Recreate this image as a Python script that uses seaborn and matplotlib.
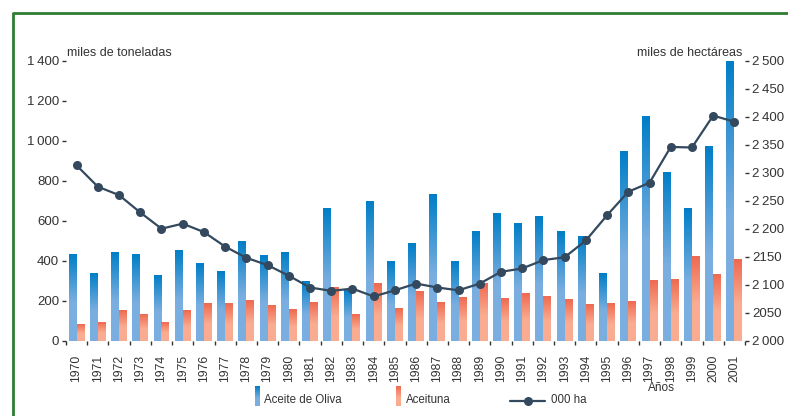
import numpy as np
import pandas as pd
import matplotlib
matplotlib.use("Agg")
import matplotlib.pyplot as plt
import seaborn as sns
from matplotlib.lines import Line2D

years = [str(y) for y in range(1970, 2002)]
aceite = [433, 338, 443, 433, 328, 453, 388, 348, 498, 428, 443, 298, 663, 258, 698, 398,
          488, 733, 398, 548, 638, 588, 623, 548, 523, 338, 948, 1123, 843, 663, 973, 1400]
aceituna = [83, 93, 153, 133, 93, 153, 188, 188, 203, 178, 158, 193, 268, 133, 288, 163,
            248, 193, 218, 288, 213, 238, 223, 208, 183, 188, 198, 303, 308, 423, 333, 408]
hectareas = [2313, 2275, 2260, 2229, 2200, 2209, 2194, 2168, 2148, 2135, 2116, 2095, 2089, 2093, 2079, 2090,
             2102, 2095, 2090, 2102, 2123, 2129, 2144, 2149, 2179, 2224, 2266, 2282, 2346, 2345, 2402, 2391]
series_names = ["Aceite de Oliva", "Aceituna"]
line_name = "000 ha"
left_ticks = [0, 200, 400, 600, 800, 1000, 1200, 1400]
left_labels = ["0", "200", "400", "600", "800", "1\u2009000", "1\u2009200", "1\u2009400"]
right_ticks = [2000, 2050, 2100, 2150, 2200, 2250, 2300, 2350, 2400, 2450, 2500]
right_labels = ["2\u2009000", "2050", "2\u2009100", "2150", "2\u2009200", "2\u2009250", "2\u2009300",
                "2\u2009350", "2\u2009400", "2\u2009450", "2\u2009500"]

sns.set_theme(style="white")
plt.rcParams["font.family"] = ["Liberation Sans", "DejaVu Sans"]
TXT = "#333333"
FS = 9.5

W, H = 788, 416
fig = plt.figure(figsize=(W / 100, H / 100), dpi=100)

# overlay in pixel coordinates (frame, legend, labels)
ov = fig.add_axes([0, 0, 1, 1], zorder=0)
ov.set_xlim(0, W)
ov.set_ylim(H, 0)
ov.axis("off")
green = "#2E7D32"
ov.plot([13, W], [12.5, 12.5], color=green, lw=2, solid_capstyle="butt")
ov.plot([13.5, 13.5], [12, H], color=green, lw=2, solid_capstyle="butt")

ax = fig.add_axes([66 / W, (H - 340.7) / H, 679 / W, 280 / H], zorder=1)
ax.patch.set_alpha(0)

df = pd.DataFrame({
    "year": years * 2,
    "value": aceite + aceituna,
    "serie": [series_names[0]] * len(years) + [series_names[1]] * len(years),
})
blue_top = np.array([0, 126, 199]) / 255
blue_bot = np.array([122, 174, 224]) / 255
red_top = np.array([238, 106, 80]) / 255
red_bot = np.array([250, 172, 145]) / 255

sns.barplot(data=df, x="year", y="value", hue="serie", hue_order=series_names,
            palette=[tuple(blue_bot), tuple(red_bot)], width=0.75, saturation=1,
            legend=False, ax=ax, linewidth=0)


def grad(top, bot, frac=0.55, n=120):
    t = np.linspace(0, 1, n)
    m = np.clip(t / frac, 0, 1)[:, None]
    cols = top[None, :] * (1 - m) + bot[None, :] * m
    return cols[:, None, :]


for cont, (ct, cb) in zip(ax.containers, [(blue_top, blue_bot), (red_top, red_bot)]):
    for p in cont.patches:
        x0, y0 = p.get_x(), p.get_y()
        w, h = p.get_width(), p.get_height()
        im = ax.imshow(grad(ct, cb), extent=(x0, x0 + w, y0, y0 + h), origin="upper",
                       aspect="auto", interpolation="bilinear", zorder=2)
        im.set_clip_path(p)

n = len(years)
ax.set_xlim(-0.5, n - 0.5)
ax.set_ylim(0, 1400)
ax.set_xlabel("")
ax.set_ylabel("")
ax.set_yticks(left_ticks)
ax.set_yticklabels(left_labels)
ax.tick_params(axis="y", left=True, length=3, width=1, color=TXT, pad=2,
               labelsize=FS, labelcolor=TXT)
ax.tick_params(axis="x", bottom=False, labelsize=8.8, labelcolor=TXT, pad=4)
ax.set_xticks(range(n))
ax.set_xticklabels(years, rotation=90)
ax.set_xticks(np.arange(-0.5, n, 1.0), minor=True)
ax.tick_params(axis="x", which="minor", bottom=True, length=3, width=1, color=TXT)
for s in ax.spines.values():
    s.set_visible(False)

ax2 = ax.twinx()
sns.lineplot(x=np.arange(n), y=hectareas, ax=ax2, color="#34495E", lw=1.6,
             marker="o", markersize=6.5, markeredgewidth=0, zorder=5)
ax2.set_ylim(2000, 2500)
ax2.set_xlim(-0.5, n - 0.5)
ax2.set_yticks(right_ticks)
ax2.set_yticklabels(right_labels)
ax2.tick_params(axis="y", right=True, length=3, width=1, color=TXT, pad=2,
                labelsize=FS, labelcolor=TXT)
for s in ax2.spines.values():
    s.set_visible(False)
ax2.grid(False)
ax.grid(False)

# axis titles
ov.text(67, 53, "miles de toneladas", fontsize=9, color=TXT, ha="left", va="center")
ov.text(742, 53, "miles de hectáreas", fontsize=9, color=TXT, ha="right", va="center")
ov.text(661, 388, "Años", fontsize=8.5, color=TXT, ha="center", va="center")

# legend
LFS = 8.3
ov.imshow(grad(blue_top, blue_bot, 0.6), extent=(255, 260, 406, 386), aspect="auto", zorder=3)
ov.text(264, 400, series_names[0], fontsize=LFS, color=TXT, ha="left", va="center")
ov.imshow(grad(red_top, red_bot, 0.6), extent=(396, 401, 406, 386), aspect="auto", zorder=3)
ov.text(406, 400, series_names[1], fontsize=LFS, color=TXT, ha="left", va="center")
ov.add_line(Line2D([510, 545], [401, 401], color="#34495E", lw=1.6))
ov.add_line(Line2D([528], [401], color="#34495E", marker="o", markersize=6.5, markeredgewidth=0))
ov.text(551, 400, line_name, fontsize=LFS, color=TXT, ha="left", va="center")
ov.set_xlim(0, W)
ov.set_ylim(H, 0)

fig.savefig("out.png", dpi=100)
